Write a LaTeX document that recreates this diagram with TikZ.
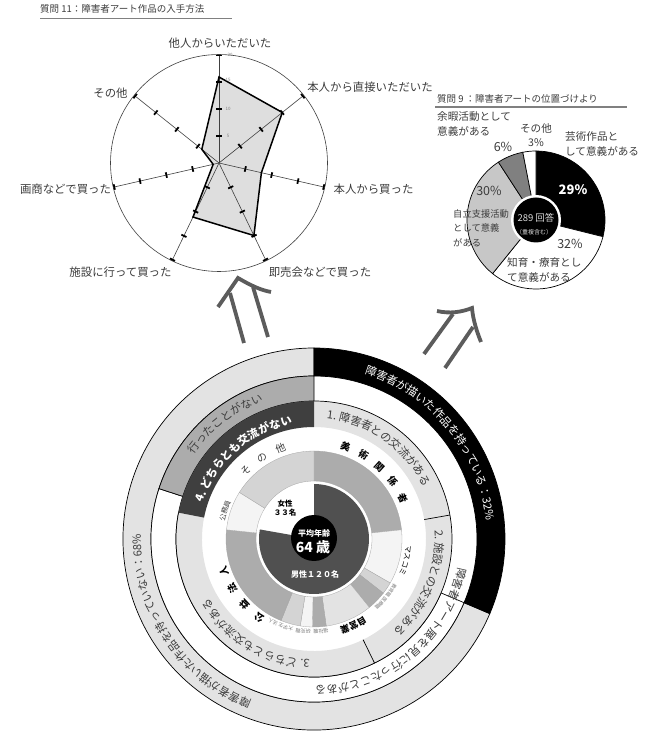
\documentclass[tikz,border=0pt]{standalone}
\usepackage{fontspec}
\setmainfont{Noto Sans CJK JP}
\usetikzlibrary{decorations.text, decorations.markings}

\definecolor{inkgray}{HTML}{3C3C3C}
\definecolor{bandlight}{HTML}{E3E3E3}
\definecolor{bandmid}{HTML}{ACACAC}
\definecolor{banddark}{HTML}{3F3F3F}
\definecolor{pielight}{HTML}{D4D4D4}
\definecolor{piepale}{HTML}{F4F4F4}
\definecolor{piedark}{HTML}{505050}
\definecolor{arrowgray}{HTML}{5C5C5C}

\newcommand{\bandfont}{\fontsize{11.2}{13}\selectfont}
\newcommand{\tinyfont}{\fontsize{5}{6}\selectfont}

\tikzset{
  labeltext/.style={inner sep=0pt,text=inkgray,font=\fontsize{11.4}{14}\selectfont},
  donuttext/.style={inner sep=0pt,text=inkgray,align=left,font=\fontsize{10.6}{14.5}\selectfont},
  pcttext/.style={inner sep=0pt,text=inkgray,font=\fontsize{12.5}{14}\selectfont},
  titletext/.style={inner sep=0pt,anchor=west,text=inkgray,font=\fontsize{9.5}{11}\selectfont},
  axistext/.style={inner sep=0pt,text=gray,font=\fontsize{4.5}{5}\selectfont},
  centertext/.style={inner sep=0pt,text=white,font=\bfseries\fontsize{8}{10}\selectfont},
  titleline/.style={draw=gray,line width=1.3pt},
  bigarrow/.style={draw=arrowgray,line width=3.8pt},
  spoke/.style={draw=black!75,line width=.6pt,postaction={decorate},decoration={markings,
      mark=at position .25 with {\draw[black,line width=1.8pt] (0,-2.8) -- (0,2.8);},
      mark=at position .5 with {\draw[black,line width=1.8pt] (0,-2.8) -- (0,2.8);},
      mark=at position .75 with {\draw[black,line width=1.8pt] (0,-2.8) -- (0,2.8);},
      mark=at position .995 with {\draw[black,line width=1.8pt] (0,-2.8) -- (0,2.8);}}},
  seam/.style={draw=black,line width=.7pt},
  pieseg/.style={draw=black!35,line width=.3pt},
  curved/.style={decorate,decoration={text along path,text color=#1}}
}

\begin{document}
\begin{tikzpicture}[x=1pt,y=1pt]
\useasboundingbox (0,0) rectangle (659,740);

  % titles
  \node[titletext] (q11) at (40,731) {質問 11：障害者アート作品の入手方法};
  \node[titletext] (q9) at (437,641) {質問 9 ：障害者アートの位置づけより};
  \draw[titleline] (40,721.5) -- (232,721.5);
  \draw[titleline] (435,633) -- (627,633);

  % radar chart
  \begin{scope}[shift={(219,577)}]
    \fill[black!13] (90:86) -- (38.6:81) -- (-12.9:43.5) -- (-64.3:80.5) -- (-115.7:60) -- (-167.1:6) -- (141.4:22) -- cycle;
    \draw[black!75,line width=.6pt] (0,0) circle (108.5);
    \draw[spoke] (0,0) -- (90:108);
    \draw[spoke] (0,0) -- (38.6:108);
    \draw[spoke] (0,0) -- (-12.9:108);
    \draw[spoke] (0,0) -- (-64.3:108);
    \draw[spoke] (0,0) -- (-115.7:108);
    \draw[spoke] (0,0) -- (-167.1:108);
    \draw[spoke] (0,0) -- (141.4:108);
    \draw[black,line width=1.5pt,line join=miter] (90:86) -- (38.6:81) -- (-12.9:43.5) -- (-64.3:80.5) -- (-115.7:60) -- (-167.1:6) -- (141.4:22) -- cycle;
  \end{scope}
  \node[axistext] (ax5) at (228,604) {5};
  \node[axistext] (ax10) at (228,631.5) {10};
  \node[axistext] (ax15) at (228,660) {15};
  \node[axistext] (ax20) at (230,685) {20};

  \node[labeltext] (other) at (220,697) {他人からいただいた};
  \node[labeltext] (direct) at (370,653) {本人から直接いただいた};
  \node[labeltext] (bought) at (373.5,551) {本人から買った};
  \node[labeltext] (sale) at (320,468) {即売会などで買った};
  \node[labeltext] (visit) at (120.5,468) {施設に行って買った};
  \node[labeltext] (dealer) at (65.5,551) {画商などで買った};
  \node[labeltext] (misc) at (110.5,647) {その他};

  % donut chart
  \begin{scope}[shift={(536,520)}]
    \filldraw[seam,fill=black] (0,0) -- (90:69) arc (90:-14:69) -- cycle;
    \filldraw[seam,fill=white] (0,0) -- (-14:69) arc (-14:-129:69) -- cycle;
    \filldraw[seam,fill=black!22] (0,0) -- (-129:69) arc (-129:-237:69) -- cycle;
    \filldraw[seam,fill=black!50] (0,0) -- (123:69) arc (123:101:69) -- cycle;
    \filldraw[seam,fill=white] (0,0) -- (101:69) arc (101:90:69) -- cycle;
    \fill[white] (0,0) circle (25);
    \fill[black] (0,0) circle (22.5);
  \end{scope}
  \node[donuttext] (leisure) [anchor=west] at (437,616) {余暇活動として\\意義がある};
  \node[donuttext,align=center] (rest) at (536,605) {その他\\3\%};
  \node[pcttext] (pct6) at (503,593) {6\%};
  \node[donuttext] (art) [anchor=west] at (565,596) {芸術作品と\\して意義がある};
  \node[pcttext,text=white,font=\bfseries\fontsize{13}{14}\selectfont] (pct29) at (573,550) {29\%};
  \node[pcttext] (pct32) at (570,496) {32\%};
  \node[donuttext] (care) [anchor=west] at (507,470) {知育・療育とし\\て意義がある};
  \node[pcttext] (pct30) at (489,549) {30\%};
  \node[donuttext,font=\fontsize{9.3}{14.5}\selectfont] (self) [anchor=west] at (453,512) {自立支援活動\\として意義\\がある};
  \node[inner sep=0pt,text=white!85!black,font=\fontsize{9.5}{12}\selectfont] (answers) at (536,522) {289 回答};
  \node[inner sep=0pt,text=white!85!black,font=\fontsize{6}{7}\selectfont] (dup) at (534,508) {（重複含む）};

  % double arrows
  \draw[bigarrow] (218,433) -- (238,462) .. controls (250,455) and (260,450) .. (271,448);
  \draw[bigarrow] (230,447) -- (244,397);
  \draw[bigarrow] (253,453) -- (268,403);
  \draw[bigarrow] (437,429) .. controls (450,426) and (462,428) .. (472,432) .. controls (473,420) and (477,408) .. (481,398);
  \draw[bigarrow] (453,426) -- (424,386);
  \draw[bigarrow] (473,413) -- (445,372);

  % ring chart
  \begin{scope}[shift={(314,201)}]
    % outer band
    \filldraw[seam,fill=bandlight] (-23:191) arc (-23:-270:191) -- (90:163) arc (-270:-23:163) -- cycle;
    \filldraw[seam,fill=black] (90:191) arc (90:-23:191) -- (-23:163) arc (-23:90:163) -- cycle;
    % second band
    \filldraw[seam,fill=white] (-23:163) arc (-23:-198:163) -- (162:138) arc (162:337:138) -- cycle;
    \filldraw[seam,fill=bandmid] (162:163) arc (162:90:163) -- (90:138) arc (90:162:138) -- cycle;
    % third band
    \fill[bandlight] (90:138) arc (90:-191:138) -- (169:112) arc (169:450:112) -- cycle;
    \fill[banddark] (169:138) arc (169:90:138) -- (90:112) arc (90:169:112) -- cycle;
    \draw[seam] (90:138) arc (90:-191:138);
    \draw[seam] (10:138) -- (10:112);
    \draw[seam] (-64:138) -- (-64:112);
    % pie ring
    \filldraw[pieseg,fill=bandmid] (90:88) arc (90:6:88) -- (6:58) arc (6:90:58) -- cycle;
    \filldraw[pieseg,fill=piepale] (6:88) arc (6:-30:88) -- (-30:58) arc (-30:6:58) -- cycle;
    \filldraw[pieseg,fill=pielight] (-30:88) arc (-30:-38:88) -- (-38:58) arc (-38:-30:58) -- cycle;
    \filldraw[pieseg,fill=bandmid] (-38:88) arc (-38:-51:88) -- (-51:58) arc (-51:-38:58) -- cycle;
    \filldraw[pieseg,fill=bandlight] (-51:88) arc (-51:-82:88) -- (-82:58) arc (-82:-51:58) -- cycle;
    \filldraw[pieseg,fill=bandmid] (-82:88) arc (-82:-91:88) -- (-91:58) arc (-91:-82:58) -- cycle;
    \filldraw[pieseg,fill=piepale] (-91:88) arc (-91:-99:88) -- (-99:58) arc (-99:-91:58) -- cycle;
    \filldraw[pieseg,fill=pielight] (-99:88) arc (-99:-112:88) -- (-112:58) arc (-112:-99:58) -- cycle;
    \filldraw[pieseg,fill=bandmid] (-112:88) arc (-112:-186:88) -- (-186:58) arc (-186:-112:58) -- cycle;
    \filldraw[pieseg,fill=piepale] (174:88) arc (174:148:88) -- (148:58) arc (148:174:58) -- cycle;
    \filldraw[pieseg,fill=pielight] (148:88) arc (148:90:88) -- (90:58) arc (90:148:58) -- cycle;
    % gender pie
    \fill[piedark] (0,0) -- (90:55) arc (90:-190:55) -- cycle;
    \fill[black] (0,1) circle (23);

    % curved labels
    \path[curved=white,decoration={text={|\bandfont|障害者が描いた作品を持っている：32{\%}}}] (73:173) arc (73:-5:173);
    \path[curved=inkgray,decoration={text={|\bandfont|障害者が描いた作品を持っていない：68{\%}}}] (-111:173) arc (-111:-195:173);
    \path[curved=inkgray,decoration={text={|\bandfont|障害者アート展を見に行ったことがある}}] (-11:147) arc (-11:-100:147);
    \path[curved=inkgray,decoration={text={|\bandfont|行ったことがない}}] (145:147) arc (145:100:147);
    \path[curved=white,decoration={text={|\bandfont\bfseries|4. どちらとも交流がない}}] (162:117) arc (162:85:117);
    \path[curved=inkgray,decoration={text={|\bandfont|1. 障害者との交流がある}}] (84:121) arc (84:10:121);
    \path[curved=inkgray,decoration={text={|\bandfont|2. 施設との交流がある}}] (4:121) arc (4:-60:121);
    \path[curved=inkgray,decoration={text={|\bandfont|3. どちらとも交流がある}}] (-92:121) arc (-92:-165:121);
    \path[curved=black,decoration={text={|\fontsize{9.5}{11}\selectfont\bfseries|美　術　関　係　者}}] (74:94) arc (74:5:94);
    \path[curved=inkgray,decoration={text={|\fontsize{10}{11}\selectfont|そ　の　他}}] (138:93) arc (138:95:93);
    \path[curved=black,decoration={text={|\fontsize{9.5}{11}\selectfont\bfseries|公　益　法　人}}] (-122:92) arc (-122:-180:92);
    \path[curved=inkgray,decoration={text={|\fontsize{7}{8}\selectfont|公務員}}] (169:91) arc (169:140:91);
    \path[curved=black,decoration={text={|\fontsize{7.5}{8}\selectfont|マスコミ}}] (-4:92) arc (-4:-30:92);
    \path[curved=black,decoration={text={|\fontsize{9}{10}\selectfont\bfseries|自営業}}] (-57:92) arc (-57:-85:92);
    \path[curved=gray,decoration={text={|\tinyfont|教育職}}] (-29:91) arc (-29:-40:91);
    \path[curved=gray,decoration={text={|\tinyfont|医療職}}] (-39:91) arc (-39:-52:91);
    \path[curved=gray,decoration={text={|\tinyfont|福祉職}}] (-81:91) arc (-81:-93:91);
    \path[curved=gray,decoration={text={|\tinyfont|研究職}}] (-92:91) arc (-92:-104:91);
    \path[curved=gray,decoration={text={|\tinyfont|大学生}}] (-103:91) arc (-103:-115:91);
    \path[curved=gray,decoration={text={|\tinyfont|法人}}] (-113:91) arc (-113:-124:91);
  \end{scope}

  \node[centertext] (avg) at (314,207) {平均年齢};
  \node[centertext,font=\bfseries\fontsize{14}{16}\selectfont] (age) at (313,193) {64 歳};
  \node[centertext] (men) at (315,166) {男性１２０名};
  \node[centertext,text=black,align=center,font=\bfseries\fontsize{7.5}{8.5}\selectfont] (women) at (285,232) {女性\\３３名};

\end{tikzpicture}
\end{document}
